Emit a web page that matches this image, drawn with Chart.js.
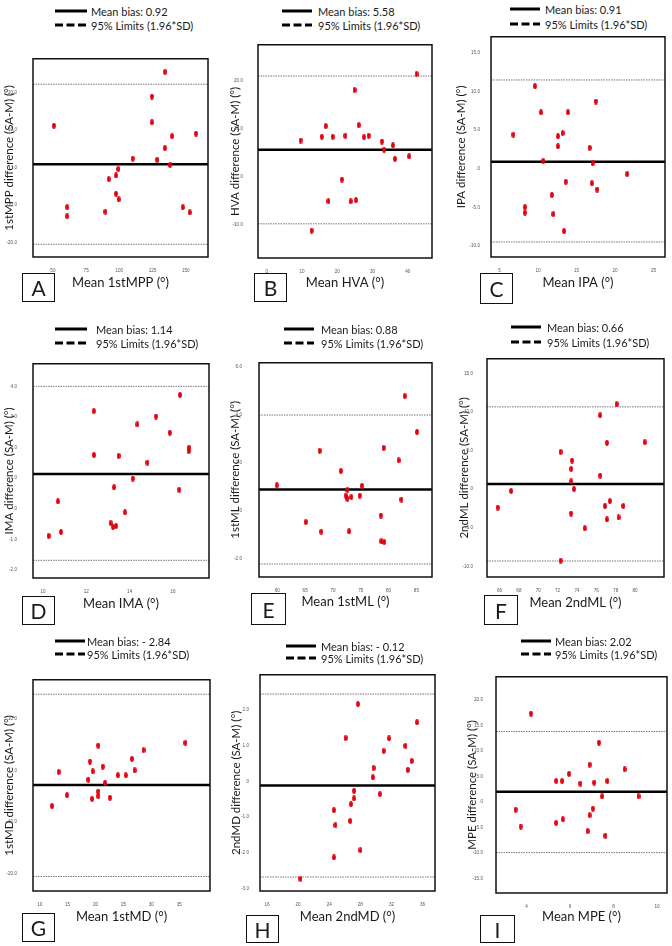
<!DOCTYPE html>
<html>
<head>
<meta charset="utf-8">
<script src="https://cdn.jsdelivr.net/npm/chart.js@4.4.1/dist/chart.umd.min.js"></script>
<style>
  body { margin: 0; background: #fff; }
  #page { position: relative; width: 672px; height: 946px; overflow: hidden; font-family: Lato, "Open Sans", sans-serif; color: #1a1a1a; }
  canvas { position: absolute; }
  .row { position: absolute; height: 14px; display: flex; align-items: center; font-size: 11px; white-space: nowrap; }
  .letter { position: absolute; border: 1.5px solid #111; box-sizing: border-box; font-size: 21px; display: flex; align-items: center; justify-content: center; }
</style>
</head>
<body>
<div id="page"></div>
<script>
'use strict';

// measures, one per panel (A..I)
const measures = ['1stMPP', 'HVA', 'IPA', 'IMA', '1stML', '2ndML', '1stMD', '2ndMD', 'MPE'];
const letters = ['A', 'B', 'C', 'D', 'E', 'F', 'G', 'H', 'I'];
const biasText = ['0.92', '5.58', '0.91', '1.14', '0.88', '0.66', '- 2.84', '- 0.12', '2.02'];
const bias = [0.92, 5.58, 0.91, 1.14, 0.88, 0.66, -2.84, -0.12, 2.02];
const upperLimit = [22.3, 20.9, 11.5, 4.01, 3.98, 10.66, 14.7, 2.44, 13.8];
const lowerLimit = [-20.5, -9.8, -9.5, -1.69, -2.23, -9.30, -20.5, -2.68, -9.9];

// mean of the two methods (x) and difference SA-M (y)
const mppMean = [50.75, 60.75, 60.75, 89.5, 92, 97.5, 99.25, 97.5, 99.5, 110, 124.5, 124.5, 128.5, 134.5, 134.25, 138.25, 139.75, 147.75, 153, 157.75];
const mppDiff = [11.2, -10.6, -13.0, -11.8, -3.1, -2.1, -0.4, -7.0, -8.5, 2.4, 19.0, 12.1, 2.1, 25.6, 5.2, 0.7, 8.4, -10.6, -12.0, 9.1];

const hvaMean = [9.6, 12.7, 15.6, 16.7, 17.5, 18.7, 21.3, 22.3, 23.8, 24.9, 25.3, 26.1, 27.6, 28.9, 32.7, 33.3, 35.8, 36.4, 40.4, 42.5];
const hvaDiff = [7.5, -11.2, 8.3, 10.5, -5.1, 8.3, -0.6, 8.5, -5.1, 18.0, -4.9, 10.7, 8.2, 8.5, 7.3, 5.6, 6.5, 3.7, 4.2, 21.3];

const ipaMean = [6.8, 8.3, 8.3, 9.6, 10.4, 10.7, 11.8, 12.0, 12.6, 12.6, 13.2, 13.4, 13.6, 13.9, 16.7, 17.0, 17.1, 17.5, 17.7, 21.6];
const ipaDiff = [4.4, -5.0, -5.7, 10.7, 7.3, 1.0, -3.4, -5.9, 4.2, 2.9, 4.6, -8.1, -1.7, 7.3, 2.7, -1.9, 0.7, 8.7, -2.7, -0.7];

const imaMean = [10.26, 10.69, 10.83, 12.34, 12.35, 13.12, 13.23, 13.28, 13.37, 13.49, 13.78, 14.14, 14.35, 14.82, 15.22, 15.85, 16.29, 16.32, 16.72, 16.74];
const imaDiff = [-0.89, 0.24, -0.76, 3.20, 1.76, -0.47, -0.60, 0.70, -0.57, 1.73, -0.12, 0.99, 2.76, 1.51, 3.02, 2.49, 0.62, 3.73, 1.89, 2.00];

const ml1Mean = [59.9, 65.1, 67.6, 67.9, 71.4, 72.3, 72.6, 72.6, 72.9, 73.3, 74.8, 75.2, 78.6, 78.7, 79.1, 79.2, 81.8, 82.3, 82.9, 85.1];
const ml1Diff = [1.05, -0.48, 2.49, -0.88, 1.65, 0.62, 0.85, 0.49, -0.87, 0.56, 0.62, 1.03, -0.21, -1.28, 2.61, -1.31, 2.09, 0.46, 4.77, 3.27];

const ml2Mean = [65.8, 67.2, 72.3, 72.3, 73.4, 73.4, 73.5, 73.4, 73.7, 74.8, 76.4, 76.4, 76.9, 77.1, 77.1, 77.4, 78.1, 78.3, 78.8, 81.0];
const ml2Diff = [-2.39, -0.23, 4.81, -9.26, 2.61, 1.00, 3.71, -3.15, 0.02, -5.06, 9.56, 1.76, -2.18, 6.00, -3.92, -1.54, 11.00, -3.66, -2.18, 6.08];

const md1Mean = [12.2, 13.4, 14.9, 18.7, 19.0, 19.4, 19.5, 20.5, 20.5, 20.5, 21.3, 21.7, 22.6, 24.0, 25.4, 26.5, 27.0, 28.6, 36.1];
const md1Diff = [-6.9, -0.3, -4.8, -1.8, 1.7, -5.5, -0.2, 4.8, -4.1, -5.0, 0.7, -2.4, -5.3, -0.96, -0.96, 2.2, 0.0, 3.9, 5.3];

const md2Mean = [20.3, 24.6, 24.6, 24.8, 26.1, 26.7, 26.8, 27.2, 27.2, 27.7, 28.0, 29.6, 29.7, 30.5, 31.0, 31.7, 33.8, 34.1, 34.6, 35.3];
const md2Diff = [-2.73, -0.81, -2.13, -1.23, 1.21, -1.11, -0.64, -0.48, -0.27, 2.16, -1.93, 0.11, 0.37, -0.36, 0.85, 1.20, 0.99, 0.32, 0.57, 1.65];

const mpeMean = [3.50, 3.74, 4.21, 5.37, 5.37, 5.64, 5.67, 5.96, 6.48, 6.81, 6.90, 6.90, 7.05, 7.12, 7.33, 7.48, 7.63, 7.72, 8.51, 9.15];
const mpeDiff = [-1.5, -4.8, 17.3, -4.1, 4.1, 4.1, -3.4, 5.5, 3.6, -5.7, 7.3, -2.6, -1.3, 3.8, 11.6, 1.1, -6.6, 4.1, 6.4, 1.1];

const means = [mppMean, hvaMean, ipaMean, imaMean, ml1Mean, ml2Mean, md1Mean, md2Mean, mpeMean];
const diffs = [mppDiff, hvaDiff, ipaDiff, imaDiff, ml1Diff, ml2Diff, md1Diff, md2Diff, mpeDiff];

// tick labels
const xTicks = [
  [50, 75, 100, 125, 150], [0, 10, 20, 30, 40], [5, 10, 15, 20, 25],
  [10, 12, 14, 16], [60, 65, 70, 75, 80, 85], [66, 68, 70, 72, 74, 76, 78, 80],
  [10, 15, 20, 25, 30, 35], [16, 20, 24, 28, 32, 36], [4, 6, 8, 10]
];
const yTicks = [
  [-20, -10, 0, 10, 20], [-10, 0, 10, 20], [-10, -5, 0, 5, 10, 15],
  [-2, -1, 0, 1, 2, 3, 4], [-2, 0, 2, 4, 6], [-10, -5, 0, 5, 10, 15],
  [-20, -10, 0, 10], [-3, -2, -1, 0, 1, 2], [-15, -10, -5, 0, 5, 10, 15, 20]
];
// axis ranges [min, max]
const xRange = [[35, 166.75], [-2.5, 46.9], [3.9, 26.5], [9.54, 17.66], [56.7, 87.8], [64.7, 83.0], [8.8, 40.5], [15.1, 37.6], [2.6, 10.46]];
const yRange = [[-23.9, 29.1], [-16.9, 27.4], [-11.45, 17.1], [-2.27, 4.75], [-2.77, 6.16], [-11.37, 16.89], [-23.3, 17.5], [-3.07, 2.98], [-17.8, 24.5]];

// page layout (px): panel origin, plot box, y title x, x title y, y tick gap
const boxes = [
  { ox: 0, l: 33, r: 209, t: 52, b: 257, ty: 9, tx: 283, gap: 8 },
  { ox: 224, l: 258, r: 433, t: 39, b: 258, ty: 235, tx: 283, gap: 7 },
  { ox: 448, l: 491, r: 666, t: 35, b: 257, ty: 461, tx: 283, gap: 3 },
  { ox: 0, l: 33, r: 210, t: 357, b: 578, ty: 9, tx: 604, gap: 8 },
  { ox: 224, l: 259, r: 433, t: 355, b: 577, ty: 235, tx: 602, gap: 9 },
  { ox: 448, l: 487, r: 665, t: 354, b: 577, ty: 464, tx: 603, gap: 6 },
  { ox: 0, l: 33, r: 211, t: 673, b: 891, ty: 9, tx: 917, gap: 8 },
  { ox: 224, l: 260, r: 436, t: 673, b: 891, ty: 236, tx: 917, gap: 3 },
  { ox: 448, l: 496, r: 668, t: 673, b: 893, ty: 472, tx: 917, gap: 5 }
];
const legends = [
  { x: 55, w: 32, tx: 91, y1: 11, y2: 25 },
  { x: 282, w: 30, tx: 318, y1: 11, y2: 25 },
  { x: 510, w: 30, tx: 545, y1: 9, y2: 24 },
  { x: 55, w: 32, tx: 96, y1: 329, y2: 343 },
  { x: 284, w: 30, tx: 321, y1: 329, y2: 343 },
  { x: 511, w: 30, tx: 547, y1: 327, y2: 342 },
  { x: 55, w: 30, tx: 87, y1: 641, y2: 654 },
  { x: 286, w: 30, tx: 321, y1: 646, y2: 658 },
  { x: 521, w: 30, tx: 555, y1: 641, y2: 654 }
];
const letterBoxes = [
  { x: 22, y: 273, w: 33, h: 29 }, { x: 254, y: 273, w: 33, h: 29 }, { x: 480, y: 273, w: 33, h: 31 },
  { x: 22, y: 596, w: 33, h: 29 }, { x: 251, y: 593, w: 35, h: 32 }, { x: 484, y: 595, w: 34, h: 30 },
  { x: 22, y: 913, w: 33, h: 29 }, { x: 246, y: 915, w: 33, h: 28 }, { x: 480, y: 915, w: 35, h: 28 }
];

const page = document.getElementById('page');

// little red oval used as point marker
function makeDot() {
  const c = document.createElement('canvas');
  c.width = 4; c.height = 6;
  const g = c.getContext('2d');
  g.fillStyle = '#e3000f';
  g.beginPath();
  g.ellipse(2, 3, 1.9, 2.9, 0, 0, Math.PI * 2);
  g.fill();
  return c;
}
const dot = makeDot();

// SPSS style labels: ".0", "-10.0"
function spss(v) {
  let s = Math.abs(v).toFixed(1);
  if (s.startsWith('0.')) s = s.slice(1);
  return (v < 0 ? '-' : '') + s;
}

const frame = {
  id: 'frame',
  afterDatasetsDraw(chart) {
    const { ctx, chartArea: a } = chart;
    ctx.save();
    ctx.strokeStyle = '#111';
    ctx.lineWidth = 1.5;
    ctx.strokeRect(a.left, a.top, a.right - a.left, a.bottom - a.top);
    ctx.restore();
  }
};

function hLine(xr, y) {
  return [{ x: xr[0], y: y }, { x: xr[1], y: y }];
}

function addLegend(i) {
  const lg = legends[i];
  const rows = [
    { y: lg.y1, dash: '', text: 'Mean bias: ' + biasText[i] },
    { y: lg.y2, dash: '8 3.5', text: '95% Limits (1.96*SD)' }
  ];
  rows.forEach(function (r) {
    const div = document.createElement('div');
    div.className = 'row';
    div.style.left = lg.x + 'px';
    div.style.top = (r.y - 7) + 'px';
    div.innerHTML = '<svg width="' + lg.w + '" height="4"><line x1="0" y1="2" x2="' + lg.w +
      '" y2="2" stroke="#000" stroke-width="3" stroke-dasharray="' + r.dash + '"/></svg>' +
      '<span style="margin-left:' + (lg.tx - lg.x - lg.w) + 'px">' + r.text + '</span>';
    page.appendChild(div);
  });
}

function addLetter(i) {
  const b = letterBoxes[i];
  const div = document.createElement('div');
  div.className = 'letter';
  div.style.left = b.x + 'px';
  div.style.top = b.y + 'px';
  div.style.width = b.w + 'px';
  div.style.height = b.h + 'px';
  div.textContent = letters[i];
  page.appendChild(div);
}

function drawPanel(i) {
  const bx = boxes[i];
  const top = bx.t - 4;
  const w = bx.r + 4 - bx.ox;
  const h = Math.round(bx.tx + 8 - top);
  const xAxisH = top + h - bx.b;
  const yAxisW = bx.l - bx.ox;

  const cv = document.createElement('canvas');
  cv.width = w; cv.height = h;
  cv.style.left = bx.ox + 'px';
  cv.style.top = top + 'px';
  cv.style.width = w + 'px';
  cv.style.height = h + 'px';
  page.appendChild(cv);

  const points = means[i].map(function (m, k) { return { x: m, y: diffs[i][k] }; });
  const tickFont = { family: 'Liberation Sans', size: 4.6 };
  const xTitleFont = { family: 'Lato', size: 13, lineHeight: 1.2 };
  const yTitleFont = { family: 'Lato', size: 11.5, lineHeight: 1.2 };

  new Chart(cv, {
    type: 'scatter',
    data: {
      datasets: [{
        data: points,
        pointStyle: dot,
        pointRadius: 3
      }, {
        type: 'line',
        data: hLine(xRange[i], bias[i]),
        borderColor: '#000',
        borderWidth: 2.5,
        pointRadius: 0
      }, {
        type: 'line',
        data: hLine(xRange[i], upperLimit[i]),
        borderColor: '#777',
        borderWidth: 1,
        borderDash: [1.5, 1],
        pointRadius: 0
      }, {
        type: 'line',
        data: hLine(xRange[i], lowerLimit[i]),
        borderColor: '#777',
        borderWidth: 1,
        borderDash: [1.5, 1],
        pointRadius: 0
      }]
    },
    options: {
      responsive: false,
      animation: false,
      devicePixelRatio: 1,
      layout: { padding: { top: 4, right: 4, left: 0, bottom: 0 } },
      plugins: { legend: { display: false }, tooltip: { enabled: false } },
      scales: {
        x: {
          type: 'linear',
          min: xRange[i][0],
          max: xRange[i][1],
          grid: { display: false },
          border: { display: false },
          afterBuildTicks: function (s) { s.ticks = xTicks[i].map(function (v) { return { value: v }; }); },
          afterFit: function (s) { s.height = xAxisH; },
          ticks: { font: tickFont, color: '#555', padding: 3, maxRotation: 0, autoSkip: false,
            callback: function (v) { return String(v); } },
          title: { display: true, text: 'Mean ' + measures[i] + ' (°)', font: xTitleFont, color: '#1a1a1a',
            padding: { top: 0, bottom: 0 } }
        },
        y: {
          type: 'linear',
          min: yRange[i][0],
          max: yRange[i][1],
          grid: { display: false },
          border: { display: false },
          afterBuildTicks: function (s) { s.ticks = yTicks[i].map(function (v) { return { value: v }; }); },
          afterFit: function (s) { s.width = yAxisW; },
          ticks: { font: tickFont, color: '#555', padding: bx.gap, autoSkip: false,
            callback: function (v) { return spss(v); } },
          title: { display: true, text: measures[i] + ' difference (SA-M) (°)', font: yTitleFont, color: '#1a1a1a',
            padding: { top: bx.ty - bx.ox - 6.9, bottom: 0 } }
        }
      }
    },
    plugins: [frame]
  });

  addLegend(i);
  addLetter(i);
}

for (let i = 0; i < measures.length; i++) {
  drawPanel(i);
}
</script>
</body>
</html>
